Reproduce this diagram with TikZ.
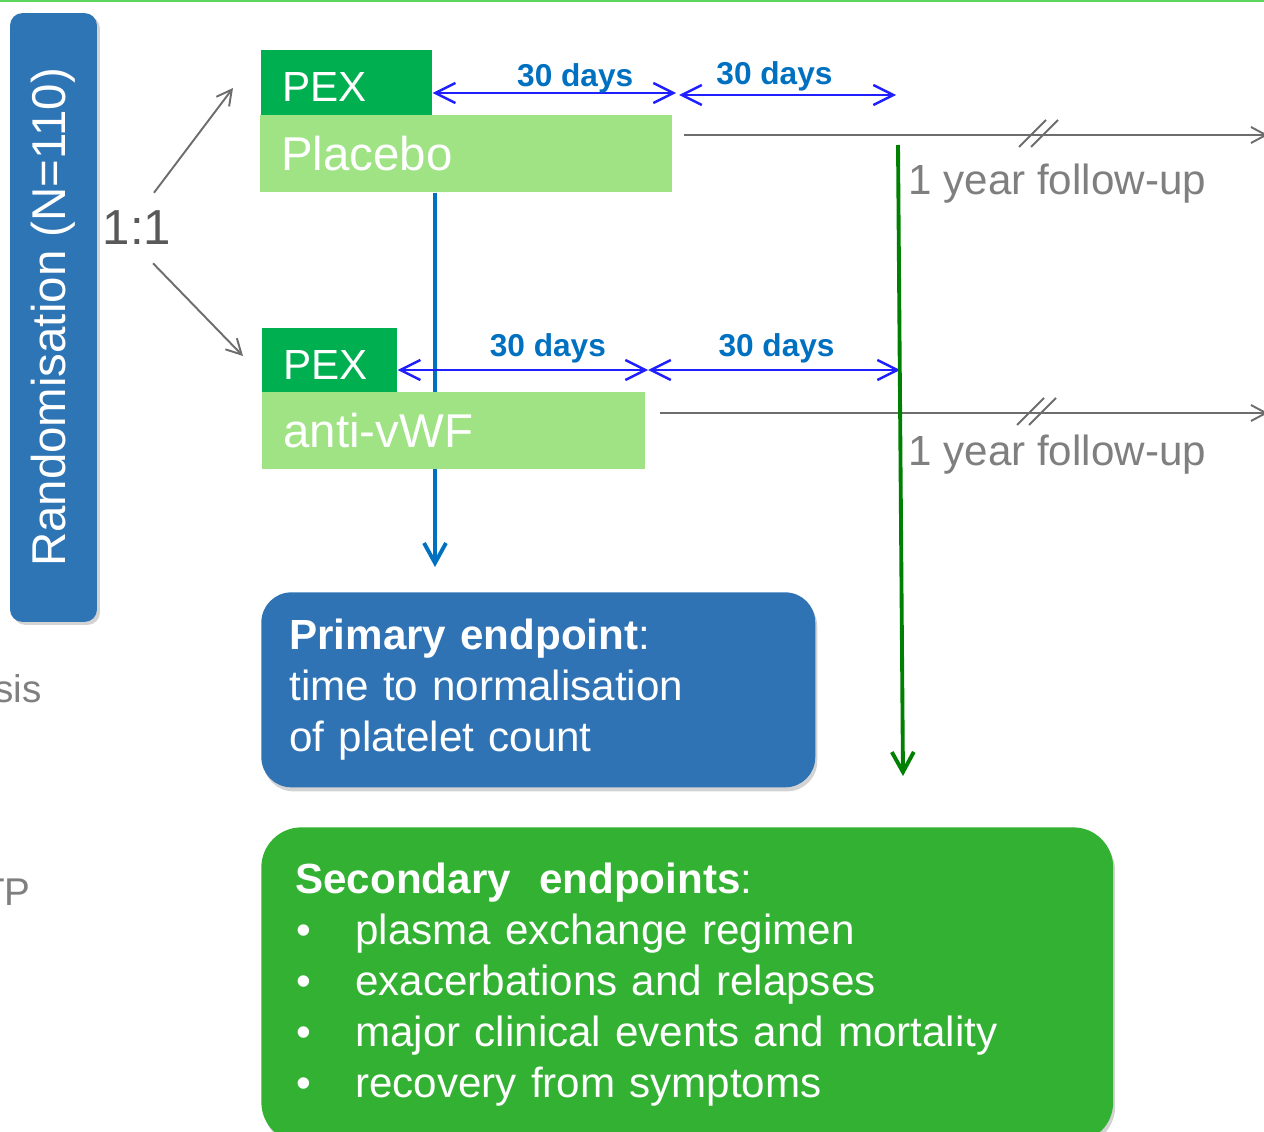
\documentclass[tikz,border=0pt]{standalone}
\usepackage{fontspec}
\setmainfont{Liberation Sans}
\usepackage{tikz}
\usetikzlibrary{arrows.meta, positioning, shadows}

\begin{document}
\begin{tikzpicture}[
    x=0.02cm, y=-0.02cm,
    gbox/.style={anchor=north west, align=left, text=white, inner xsep=0.42cm,
                 inner ysep=0pt, font=\fontsize{27}{32}\selectfont},
    pexbox/.style={gbox, fill=cpex, text height=0.76cm, text depth=0cm,
                   font=\fontsize{24}{28}\selectfont},
    endbox/.style={anchor=north west, align=left, text=white,
                   font=\fontsize{24}{29}\selectfont,
                   drop shadow={opacity=0.35, shadow xshift=0.04cm, shadow yshift=-0.08cm}},
    days/.style={{Straight Barb[length=4mm, width=4mm]}-{Straight Barb[length=4mm, width=4mm]},
                 draw=carr, line width=1.4pt},
    dlbl/.style={anchor=base, text=cdays, inner sep=0pt,
                 font=\bfseries\fontsize{18}{22}\selectfont},
    fup/.style={-{Straight Barb[length=3mm, width=3.2mm]}, draw=cline, line width=1.1pt},
    brk/.style={draw=cline, line width=1.1pt},
    flbl/.style={anchor=base west, text=ctext, inner sep=0pt,
                 font=\fontsize{24}{28}\selectfont},
    split/.style={-{Straight Barb[length=3mm, width=3.2mm]}, draw=cline, line width=1.1pt},
    vert/.style={-{Straight Barb[length=4mm, width=4.4mm]}, line width=2.2pt},
]
% ---- colours ----
\definecolor{ctop}{HTML}{5CD65C}    % top rule
\definecolor{crand}{HTML}{2E75B6}   % randomisation bar
\definecolor{cpex}{HTML}{00B050}    % PEX
\definecolor{carm}{HTML}{A0E385}    % treatment arm
\definecolor{cprim}{HTML}{2F73B5}   % primary endpoint
\definecolor{csec}{HTML}{33B133}    % secondary endpoints
\definecolor{carr}{HTML}{1F1FFF}    % 30 day spans
\definecolor{cdays}{HTML}{0070C0}
\definecolor{cline}{HTML}{6D6D6D}
\definecolor{ctext}{HTML}{7F7F7F}
\definecolor{cgreen}{HTML}{008000}

\clip (0,0) rectangle (1264,1132);
\draw[ctop, line width=1.2pt] (0,1) -- (1264,1);

% ---- randomisation ----
\node[rotate=90, fill=crand, rounded corners=0.25cm, text=white,
      minimum width=12.18cm, minimum height=1.74cm, inner sep=0pt,
      font=\fontsize{27}{32}\selectfont,
      drop shadow={opacity=0.35, shadow xshift=0.06cm, shadow yshift=-0.06cm}]
      (rand) at (53.5,317.5) {Randomisation (N=110)};
\node[text=black!65, inner sep=0pt, font=\fontsize{28}{32}\selectfont] (ratio) at (137,228) {1:1};
\node[text=ctext, anchor=base east, inner sep=0pt, font=\fontsize{22}{26}\selectfont]
      (cutA) at (42,702) {sis};
\node[text=ctext, anchor=base east, inner sep=0pt, font=\fontsize{22}{26}\selectfont]
      (cutB) at (31,905) {TP};

\coordinate (upEnd) at (233,88);
\coordinate (dnEnd) at (243,356);
\draw[split] ([shift={(17,-18)}]ratio.north) -- (upEnd);
\draw[split] ([shift={(16,18)}]ratio.south) -- (dnEnd);

% ---- arm 1: placebo ----
\node[pexbox, text width=2.58cm, minimum height=1.30cm] (pexA) at (261,50) {PEX};
\node[gbox, fill=carm, text width=7.40cm, minimum height=1.54cm] (plac) at (260,115) {Placebo};

% ---- primary endpoint arrow (behind arm 2) ----
\coordinate (primTop) at (435,567);
\draw[vert, draw=cdays] (plac.south -| primTop) -- (primTop);

% ---- arm 2: anti-vWF ----
\node[pexbox, text width=1.86cm, minimum height=1.28cm] (pexB) at (262,328) {PEX};
\node[gbox, fill=carm, text width=6.82cm, minimum height=1.54cm] (anti) at (262,392) {anti-vWF};

% ---- 30 day spans ----
\coordinate (tA1) at (676,93);
\coordinate (tA2) at (679,95);
\coordinate (tA3) at (896,95);
\coordinate (tB1) at (648,370);
\coordinate (tB2) at (900,370);
\draw[days] (pexA.east |- tA1) -- node[dlbl, pos=0.586, yshift=0.14cm]{30 days} (tA1);
\draw[days] (tA2) -- node[dlbl, pos=0.44, yshift=0.22cm]{30 days} (tA3);
\draw[days] (pexB.east |- tB1) -- node[dlbl, pos=0.60, yshift=0.28cm]{30 days} (tB1);
\draw[days] (tB1) -- node[dlbl, pos=0.51, yshift=0.28cm]{30 days} (tB2);

% ---- follow-up ----
\coordinate (fuA0) at (684,135);
\coordinate (fuA1) at (1268,135);
\coordinate (fuB0) at (660,413);
\coordinate (fuB1) at (1268,413);
\draw[fup] (fuA0) -- (fuA1);
\draw[fup] (fuB0) -- (fuB1);
\coordinate (brkA) at (1038,135);
\coordinate (brkB) at (1036,413);
\foreach \d in {-6,6} {
  \draw[brk] ([shift={(\d-13,12)}]brkA) -- ++(27,-27);
  \draw[brk] ([shift={(\d-13,12)}]brkB) -- ++(27,-27);
}
\node[flbl] (fuLblA) at (908,194) {1 year follow-up};
\node[flbl] (fuLblB) at (908,465) {1 year follow-up};

% ---- secondary endpoint arrow ----
\coordinate (secA) at (898,145);
\coordinate (secB) at (903,776);
\draw[vert, draw=cgreen] (secA) -- (secB);

% ---- endpoints ----
\node[endbox, fill=cprim, rounded corners=0.6cm, minimum height=3.9cm,
      text width=9.96cm, inner xsep=0.56cm] (prim) at (261,592)
      {\textbf{Primary endpoint}:\\time to normalisation\\of platelet count};
\node[endbox, fill=csec, rounded corners=0.8cm, minimum height=6.3cm,
      text width=15.68cm, inner xsep=0.68cm] (sec) at (261,827)
      {\textbf{Secondary\ \ endpoints}:\\
       \makebox[1.2cm][l]{\hspace{0.02cm}\textbullet}plasma exchange regimen\\
       \makebox[1.2cm][l]{\hspace{0.02cm}\textbullet}exacerbations and relapses\\
       \makebox[1.2cm][l]{\hspace{0.02cm}\textbullet}major clinical events and mortality\\
       \makebox[1.2cm][l]{\hspace{0.02cm}\textbullet}recovery from symptoms};
\end{tikzpicture}
\end{document}
